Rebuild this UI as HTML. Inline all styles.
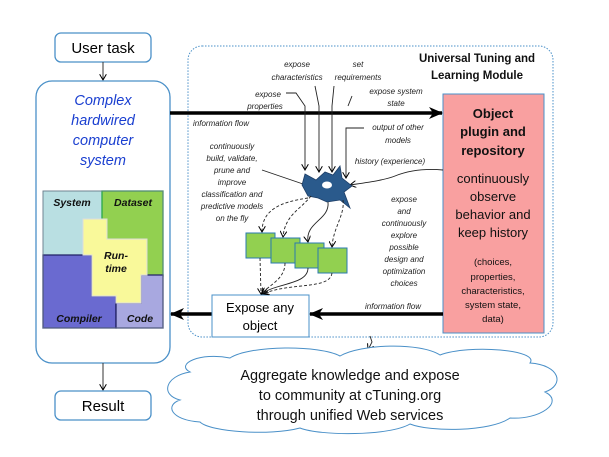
<!DOCTYPE html>
<html><head><meta charset="utf-8"><style>
body{margin:0;background:#fff;}
svg{display:block;font-family:"Liberation Sans",sans-serif;}
.it{font-style:italic;font-size:8px;fill:#222;}
</style></head><body>
<svg width="609" height="457" viewBox="0 0 609 457" xmlns="http://www.w3.org/2000/svg">
<defs>
<marker id="ab" markerWidth="8" markerHeight="8" refX="7" refY="4" orient="auto" markerUnits="userSpaceOnUse"><path d="M0,0 L8,4 L0,8 L2,4Z" fill="#000"/></marker>
<marker id="at" markerWidth="7" markerHeight="7" refX="6" refY="3.5" orient="auto" markerUnits="userSpaceOnUse"><path d="M0,0 L6,3.5 L0,7" fill="none" stroke="#000" stroke-width="1"/></marker>
<marker id="big" markerWidth="14" markerHeight="12" refX="13" refY="6" orient="auto" markerUnits="userSpaceOnUse"><path d="M0,0 L14,6 L0,12 L4,6Z" fill="#000"/></marker>
</defs>

<!-- left column -->
<rect x="55" y="33" width="96" height="29" rx="6" fill="#fff" stroke="#4a90c8" stroke-width="1.3"/>
<text x="103" y="53" font-size="15" text-anchor="middle">User task</text>
<line x1="103" y1="62" x2="103" y2="80" stroke="#333" marker-end="url(#at)"/>
<rect x="36" y="81" width="134" height="282" rx="16" fill="#fff" stroke="#4a90c8" stroke-width="1.3"/>
<g fill="#1a3fd0" font-style="italic" font-size="14.5" text-anchor="middle">
<text x="103" y="105">Complex</text><text x="103" y="125">hardwired</text><text x="103" y="145">computer</text><text x="103" y="165">system</text></g>
<rect x="43" y="191" width="59" height="64" fill="#b9dfe2" stroke="#8aa" stroke-width="1"/>
<rect x="102" y="191" width="61" height="85" fill="#92d050" stroke="#2aa84a" stroke-width="1.3"/>
<polygon points="43,255 92,255 92,296 116,296 116,328 43,328" fill="#6a6ad0" stroke="#222266" stroke-width="1.3"/>
<polygon points="141,275 163,275 163,328 116,328 116,303 141,303" fill="#a8a8e0" stroke="#222266" stroke-width="1.3"/>
<polygon points="83,219 107,219 107,239 147,239 147,275 141,275 141,303 116,303 116,296 92,296 92,255 83,255" fill="#f9f99a" stroke="#ddd" stroke-width="1"/>
<rect x="43" y="191" width="120" height="137" fill="none" stroke="#6b7b8c" stroke-width="0.8"/>
<g font-weight="bold" font-style="italic" font-size="10.5" fill="#111" text-anchor="middle">
<text x="72" y="206">System</text><text x="133" y="206">Dataset</text>
<text x="116" y="259">Run-</text><text x="116" y="272">time</text>
<text x="79" y="322">Compiler</text><text x="140" y="322">Code</text></g>
<line x1="103" y1="363" x2="103" y2="390" stroke="#333" marker-end="url(#at)"/>
<rect x="55" y="391" width="96" height="29" rx="6" fill="#fff" stroke="#4a90c8" stroke-width="1.3"/>
<text x="103" y="411" font-size="15" text-anchor="middle">Result</text>

<!-- module box -->
<rect x="188" y="46" width="365" height="291" rx="14" fill="#fff" stroke="#4a90c8" stroke-width="1" stroke-dasharray="1.5,1.5"/>
<g font-weight="bold" font-size="11.5" text-anchor="middle" fill="#111">
<text x="477" y="62">Universal  Tuning and</text><text x="477" y="79">Learning  Module</text></g>

<rect x="443" y="94" width="101" height="239" fill="#f9a0a0" stroke="#4a90c8" stroke-width="1"/>
<g text-anchor="middle" fill="#111">
<text x="493" y="118" font-weight="bold" font-size="13">Object</text>
<text x="493" y="136" font-weight="bold" font-size="13">plugin and</text>
<text x="493" y="155" font-weight="bold" font-size="13">repository</text>
<text x="493" y="183" font-size="13">continuously</text>
<text x="493" y="201" font-size="13">observe</text>
<text x="493" y="219" font-size="13">behavior and</text>
<text x="493" y="237" font-size="13">keep history</text>
<g font-size="9.5"><text x="493" y="265">(choices,</text><text x="493" y="280">properties,</text><text x="493" y="294">characteristics,</text><text x="493" y="308">system state,</text><text x="493" y="322">data)</text></g></g>

<!-- big arrows -->
<line x1="170" y1="113" x2="442" y2="113" stroke="#000" stroke-width="3.5" marker-end="url(#big)"/>
<line x1="443" y1="314" x2="310" y2="314" stroke="#000" stroke-width="3.5" marker-end="url(#big)"/>
<line x1="212" y1="314" x2="171" y2="314" stroke="#000" stroke-width="3.5" marker-end="url(#big)"/>
<text x="193" y="126" class="it">information flow</text>
<text x="365" y="309" class="it">information flow</text>

<rect x="212" y="295" width="97" height="42" fill="#fff" stroke="#4a90c8" stroke-width="1"/>
<text x="260" y="312" font-size="13" text-anchor="middle">Expose any</text>
<text x="260" y="330" font-size="13" text-anchor="middle">object</text>

<!-- labels -->
<g class="it" text-anchor="middle">
<text x="297" y="67">expose</text><text x="297" y="80">characteristics</text>
<text x="358" y="67">set</text><text x="358" y="80">requirements</text>
<text x="268" y="97">expose</text><text x="265" y="109">properties</text>
<text x="396" y="94">expose system</text><text x="396" y="106">state</text>
<text x="398" y="130">output of other</text><text x="398" y="143">models</text>
<text x="390" y="164">history (experience)</text>
<text x="232" y="149">continuously</text><text x="232" y="161">build, validate,</text><text x="232" y="173">prune and</text><text x="232" y="185">improve</text><text x="232" y="197">classification and</text><text x="232" y="209">predictive models</text><text x="232" y="221">on the fly</text>
<text x="404" y="202">expose</text><text x="404" y="214">and</text><text x="404" y="226">continuously</text><text x="404" y="238">explore</text><text x="404" y="250">possible</text><text x="404" y="262">design and</text><text x="404" y="274">optimization</text><text x="404" y="286">choices</text>
</g>

<!-- thin arrows into neuron -->
<g stroke="#222" stroke-width="0.9" fill="none">
<path d="M286,93 L296,93 L305,106 L305,170" marker-end="url(#at)"/>
<path d="M315,86 L319,106 L319,172" marker-end="url(#at)"/>
<path d="M334,86 L332,106 L332,172" marker-end="url(#at)"/>
<path d="M352,96 L348,106"/>
<path d="M364,128 L346,128 L346,178" marker-end="url(#at)"/>
<path d="M443,170 C420,168 405,172 395,176 C385,180 370,182 350,185" marker-end="url(#at)"/>
<line x1="262" y1="170" x2="303" y2="184"/>
<path d="M370,336 L372,342 L368,350" marker-end="url(#at)"/>
</g>

<!-- neuron -->
<path d="M305,174 L316,180 L325,172 L333,175 L340,166 L342,178 L352,186 L344,192 L350,208 L340,200 L327,202 L318,198 L308,196 L302,185 Z" fill="#2a5a8c" stroke="#1e3e66" stroke-width="0.8"/>
<ellipse cx="327" cy="185" rx="5" ry="3.5" fill="#fff"/>

<!-- dashed / solid curves -->
<g stroke="#222" stroke-width="0.9" fill="none">
<path d="M308,198 C280,202 262,210 262,232" stroke-dasharray="3,2" marker-end="url(#at)"/>
<path d="M311,196 C300,210 285,215 283,237" stroke-dasharray="3,2" marker-end="url(#at)"/>
<path d="M328,202 C330,220 305,222 308,242" marker-end="url(#at)"/>
<path d="M343,200 C345,215 333,228 332,247" stroke-dasharray="3,2" marker-end="url(#at)"/>
</g>

<!-- green squares -->
<g fill="#92d050" stroke="#2a7ab0" stroke-width="1">
<rect x="246" y="233" width="29" height="25"/>
<rect x="271" y="238" width="29" height="25"/>
<rect x="295" y="243" width="29" height="25"/>
<rect x="318" y="248" width="29" height="25"/>
</g>
<g stroke="#222" stroke-width="0.9" fill="none" stroke-dasharray="3,2">
<path d="M260,258 L261,294" marker-end="url(#at)"/>
<path d="M285,263 C285,280 268,285 262,294" marker-end="url(#at)"/>
<path d="M332,273 C330,290 290,282 263,294" marker-end="url(#at)"/>
</g>
<path d="M308,268 C308,285 275,283 262,294" stroke="#222" stroke-width="0.9" fill="none" marker-end="url(#at)"/>

<!-- cloud -->
<path d="M190,372 C175,364 200,352 230,358 C250,345 320,345 340,356 C360,344 420,342 440,355 C470,344 540,350 530,363 C560,365 565,385 545,392 C565,402 540,420 510,418 C490,432 430,432 410,424 C390,436 320,436 300,428 C270,436 210,432 200,422 C170,420 165,405 180,400 C160,395 165,376 190,372 Z" fill="#fff" stroke="#4a90c8" stroke-width="1"/>
<g font-size="14.5" text-anchor="middle" fill="#111">
<text x="350" y="380">Aggregate knowledge and expose</text>
<text x="350" y="400">to community at cTuning.org</text>
<text x="350" y="420">through unified Web services</text></g>
</svg>
</body></html>
